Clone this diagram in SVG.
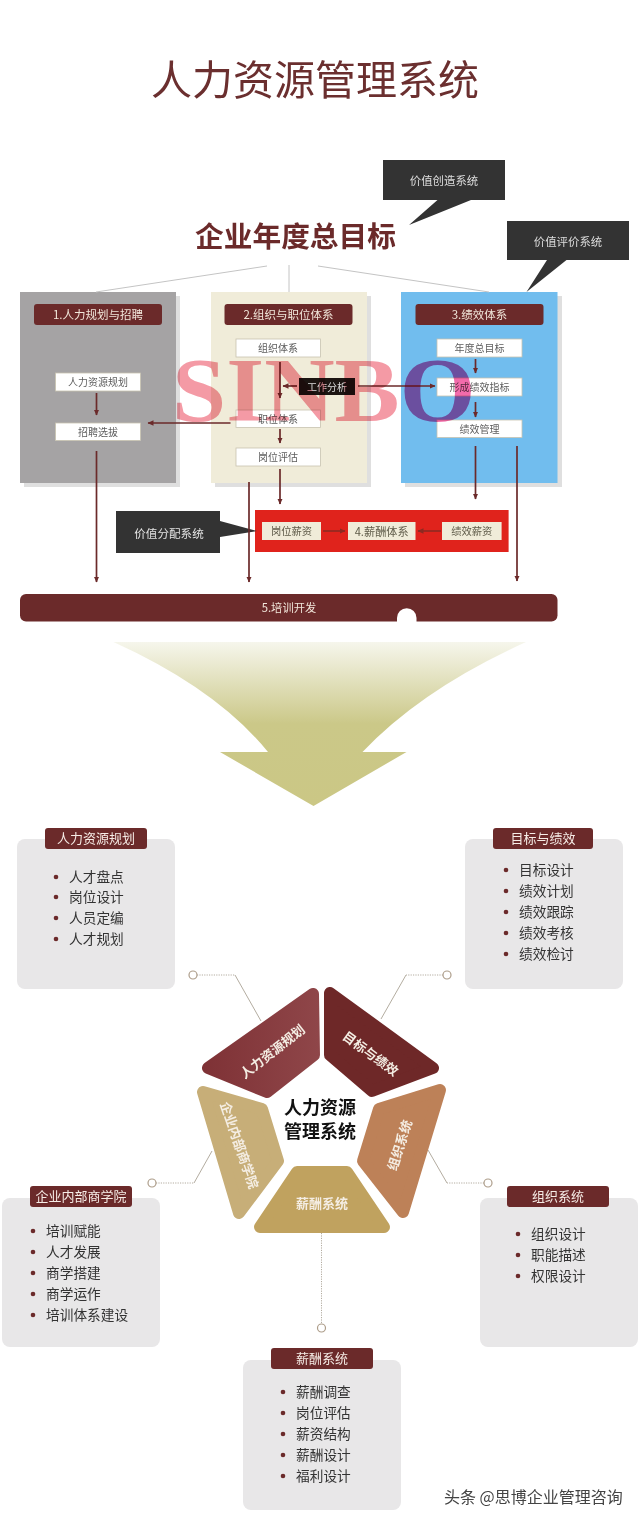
<svg xmlns="http://www.w3.org/2000/svg" width="640" height="1519" viewBox="0 0 640 1519">
<style>
text{font-family:"Noto Sans CJK SC","Noto Sans",sans-serif;text-anchor:middle;dominant-baseline:central}
.panelshadow{fill:#dfdfdf}
.hd{fill:#6b2a2a}
.hdt{fill:#f1e6da;font-size:11.500px}
.box{fill:#fff;stroke:#c8c2b0;stroke-width:.8}
.boxt{fill:#5c5c5c;font-size:10px}
.pay{fill:#f0ecd9}
.payt{fill:#5e5a48;font-size:10.300px}
.call{fill:#333}
.callt{fill:#ddd;font-size:11.400px}
.flow{stroke:#6b2a2a;stroke-width:1.7;fill:none;marker-end:url(#ah)}
.flowr{stroke:#8c2a22;stroke-width:1.6;fill:none;marker-end:url(#ahr)}
.flat{stroke:#c4c4c4;stroke-width:1;fill:none}
.lead{stroke:#b3aca0;stroke-width:1;fill:none}
.dot{stroke:#b3aca0;stroke-width:1;fill:none;stroke-dasharray:1.2 1.2}
.ring{fill:#fff;stroke:#ad9d8a;stroke-width:1.2}
.card{fill:#e8e7e8}
.ct{fill:#f6ece6;font-size:13px}
.li{fill:#333;font-size:13.700px;text-anchor:start}
.bl{fill:#6b2a2a}
.seg{stroke-width:12;stroke-linejoin:round}
.st{fill:#f4ede3;font-size:13px;font-weight:700}
.wm{font-family:"Liberation Serif",serif;font-size:92px;font-weight:700;text-anchor:start;dominant-baseline:auto;mix-blend-mode:multiply}
</style>
<defs>
<marker id="ah" markerUnits="userSpaceOnUse" markerWidth="7" markerHeight="6" refX="5.5" refY="3" orient="auto"><path d="M0 0.3L6 3L0 5.7z" fill="#6b2a2a"/></marker>
<marker id="ahr" markerUnits="userSpaceOnUse" markerWidth="7" markerHeight="6" refX="5.5" refY="3" orient="auto"><path d="M0 0.3L6 3L0 5.7z" fill="#8c2a22"/></marker>
<linearGradient id="fun" x1="0" y1="642" x2="0" y2="806" gradientUnits="userSpaceOnUse"><stop offset="0" stop-color="#f6f6ec"/><stop offset=".5" stop-color="#cbc888"/><stop offset="1" stop-color="#cbc785"/></linearGradient>
<linearGradient id="s1" gradientUnits="userSpaceOnUse" x1="200" y1="0" x2="320" y2="0"><stop offset="0" stop-color="#7e3135"/><stop offset="1" stop-color="#8f4649"/></linearGradient>
</defs>
<rect width="640" height="1519" fill="#fff"/>

<g id="title"><text x="315" y="77" style="font-size:41px;font-weight:400;fill:#6b2f2f">人力资源管理系统</text></g>
<g id="goal"><text x="295.500" y="234" style="font-size:28.700px;font-weight:700;fill:#6b2a2a">企业年度总目标</text></g>

<g id="callout-create"><path class="call" d="M383 160H505V200H471L409 225L437.500 200H383z"/><text class="callt" x="444" y="180">价值创造系统</text></g>
<g id="callout-eval"><path class="call" d="M507 221H629V260H566.500L526.500 292L547 260H507z"/><text class="callt" x="568" y="241">价值评价系统</text></g>

<g id="panel-1"><rect class="panelshadow" x="24" y="296" width="156" height="191"/><rect x="20" y="292" width="156" height="191" fill="#a5a3a4"/>
<rect class="hd" x="34" y="304" width="128" height="21" rx="3"/><text class="hdt" x="98" y="313.500">1.人力规划与招聘</text></g>
<g id="panel-2"><rect class="panelshadow" x="215" y="296" width="156" height="191"/><rect x="211" y="292" width="156" height="191" fill="#f0ecd9"/>
<rect class="hd" x="224.500" y="304" width="128" height="21" rx="3"/><text class="hdt" x="288.500" y="313.500">2.组织与职位体系</text></g>
<g id="panel-3"><rect class="panelshadow" x="405" y="296" width="157" height="191"/><rect x="401" y="292" width="156.500" height="191" fill="#71bdee"/>
<rect class="hd" x="415.500" y="304" width="128" height="21" rx="3"/><text class="hdt" x="479.500" y="313.500">3.绩效体系</text></g>

<g id="n-hrplan"><rect class="box" x="55.500" y="373" width="85" height="18"/><text class="boxt" x="98" y="381.500">人力资源规划</text></g>
<g id="n-recruit"><rect class="box" x="55.500" y="423" width="85" height="17.500"/><text class="boxt" x="98" y="431.500">招聘选拔</text></g>
<g id="n-org"><rect class="box" x="236" y="339" width="84.500" height="18"/><text class="boxt" x="278" y="347.500">组织体系</text></g>
<g id="n-post"><rect class="box" x="236" y="410" width="84.500" height="17.500"/><text class="boxt" x="278" y="418.500">职位体系</text></g>
<g id="n-eval"><rect class="box" x="236" y="448" width="84.500" height="18"/><text class="boxt" x="278" y="456.500">岗位评估</text></g>
<g id="n-goal"><rect class="box" x="437" y="339" width="85" height="18"/><text class="boxt" x="479.500" y="347.500">年度总目标</text></g>
<g id="n-kpi"><rect class="box" x="437" y="378" width="85" height="18"/><text class="boxt" x="479.500" y="386.500">形成绩效指标</text></g>
<g id="n-perf"><rect class="box" x="437" y="420" width="85" height="17.500"/><text class="boxt" x="479.500" y="428.500">绩效管理</text></g>
<g id="n-job"><rect x="299" y="378" width="56" height="17" fill="#1c1512"/><text x="327" y="386" style="font-size:10px;fill:#ddd">工作分析</text></g>

<g id="pay-system"><rect x="255" y="510" width="253.600" height="42" fill="#e0231c"/>
<rect class="pay" x="262" y="522" width="59" height="18"/><text class="payt" x="291.500" y="530.500">岗位薪资</text>
<rect class="pay" x="348" y="522" width="67.500" height="18"/><text class="payt" x="381.700" y="530.500" style="font-size:11.200px">4.薪酬体系</text>
<rect class="pay" x="442" y="522" width="59.600" height="18"/><text class="payt" x="471.800" y="530.500">绩效薪资</text></g>
<g id="callout-pay"><path class="call" d="M116 511H220V521L257 531L220 537V553H116z"/><text x="169" y="532.500" style="font-size:11.600px;fill:#e4e4e4">价值分配系统</text></g>

<g id="training"><rect x="20" y="594" width="537.500" height="27.500" rx="6" fill="#6b2a2a"/><path d="M397 622V618a9.700 9.700 0 0 1 19.500 0V622z" fill="#fff"/><text x="289" y="607" style="font-size:11.300px;fill:#f1e6da">5.培训开发</text></g>

<g id="funnel"><path fill="url(#fun)" d="M113.500 642H526Q422 689 362.500 752H406.500L313.500 806L220 752H268Q217 689 113.500 642z"/></g>

<g id="connectors">
<path class="flat" d="M267 266L96 292M289 265V292M318 266L489 292"/>
<path class="flow" d="M96.500 393V415"/>
<path class="flow" d="M96.500 451V582"/>
<path class="flow" d="M230.500 423H148"/>
<path class="flow" d="M280 362V398"/>
<path class="flow" d="M280 429V443"/>
<path class="flow" d="M280 469V504"/>
<path class="flow" d="M297 386H283"/>
<path class="flow" d="M358 386H435"/>
<path class="flow" d="M475.500 359V373"/>
<path class="flow" d="M475.500 402V417"/>
<path class="flow" d="M475.500 446V499"/>
<path class="flow" d="M517 446V581"/>
<path class="flow" d="M249 482V582"/>
<path class="flowr" d="M323 531H345"/>
<path class="flowr" d="M441 531H418"/>
<path class="dot" d="M197 975H235"/><path class="lead" d="M235 975L261 1021"/><circle class="ring" cx="193" cy="975" r="4"/>
<path class="dot" d="M443 975H406"/><path class="lead" d="M406 975L381 1019"/><circle class="ring" cx="447" cy="975" r="4"/>
<path class="dot" d="M484 1183H447"/><path class="lead" d="M447 1183L428 1150"/><circle class="ring" cx="488" cy="1183" r="4"/>
<path class="dot" d="M156 1183H194"/><path class="lead" d="M194 1183L212 1151"/><circle class="ring" cx="152" cy="1183" r="4"/>
<path class="dot" d="M321.500 1233V1324"/><circle class="ring" cx="321.500" cy="1328" r="4"/>
</g>

<g id="wheel">
<g id="seg-hr"><path class="seg" fill="url(#s1)" stroke="url(#s1)" d="M313 994L314 1055L267 1092L208 1068z"/><text class="st" transform="translate(272 1051) rotate(-38)">人力资源规划</text></g>
<g id="seg-goal"><path class="seg" fill="#6e2828" stroke="#6e2828" d="M330 993L330 1055L372 1091L433 1068z"/><text class="st" transform="translate(371 1053) rotate(36)">目标与绩效</text></g>
<g id="seg-org"><path class="seg" fill="#bd8158" stroke="#bd8158" d="M440 1090L403 1212L363 1161L379 1109z"/><text class="st" transform="translate(399 1145) rotate(-72)">组织系统</text></g>
<g id="seg-pay"><path class="seg" fill="#c0a25f" stroke="#c0a25f" d="M297 1172H347L384 1227H260z"/><text class="st" x="322" y="1202">薪酬系统</text></g>
<g id="seg-edu"><path class="seg" fill="#c7ae78" stroke="#c7ae78" d="M203 1092L262 1109L278 1161L239 1213z"/><text class="st" transform="translate(240 1145) rotate(71)">企业内部商学院</text></g>
<g id="center"><text x="320" y="1106" style="font-size:18px;font-weight:700;fill:#111">人力资源</text><text x="320" y="1130" style="font-size:18px;font-weight:700;fill:#111">管理系统</text></g>
</g>

<g id="card-hr"><rect class="card" x="17" y="839" width="158" height="150" rx="8"/><rect class="hd" x="45" y="828" width="102" height="21" rx="3"/><text class="ct" x="96" y="837.500">人力资源规划</text>
<circle class="bl" cx="56" cy="877" r="2.300"/><text class="li" x="69" y="876">人才盘点</text><circle class="bl" cx="56" cy="897" r="2.300"/><text class="li" x="69" y="896">岗位设计</text><circle class="bl" cx="56" cy="918" r="2.300"/><text class="li" x="69" y="917">人员定编</text><circle class="bl" cx="56" cy="939" r="2.300"/><text class="li" x="69" y="938">人才规划</text></g>
<g id="card-goal"><rect class="card" x="465" y="839" width="158" height="150" rx="8"/><rect class="hd" x="493" y="828" width="100" height="21" rx="3"/><text class="ct" x="543" y="837.500">目标与绩效</text>
<circle class="bl" cx="506" cy="870" r="2.300"/><text class="li" x="519" y="869">目标设计</text><circle class="bl" cx="506" cy="891" r="2.300"/><text class="li" x="519" y="890">绩效计划</text><circle class="bl" cx="506" cy="912" r="2.300"/><text class="li" x="519" y="911">绩效跟踪</text><circle class="bl" cx="506" cy="933" r="2.300"/><text class="li" x="519" y="932">绩效考核</text><circle class="bl" cx="506" cy="954" r="2.300"/><text class="li" x="519" y="953">绩效检讨</text></g>
<g id="card-edu"><rect class="card" x="2" y="1198" width="158" height="149" rx="8"/><rect class="hd" x="30" y="1186" width="102" height="21" rx="3"/><text class="ct" x="81" y="1195.500">企业内部商学院</text>
<circle class="bl" cx="33" cy="1231" r="2.300"/><text class="li" x="46" y="1230">培训赋能</text><circle class="bl" cx="33" cy="1252" r="2.300"/><text class="li" x="46" y="1251">人才发展</text><circle class="bl" cx="33" cy="1273" r="2.300"/><text class="li" x="46" y="1272">商学搭建</text><circle class="bl" cx="33" cy="1294" r="2.300"/><text class="li" x="46" y="1293">商学运作</text><circle class="bl" cx="33" cy="1315" r="2.300"/><text class="li" x="46" y="1314">培训体系建设</text></g>
<g id="card-org"><rect class="card" x="480" y="1198" width="158" height="149" rx="8"/><rect class="hd" x="507" y="1186" width="102" height="21" rx="3"/><text class="ct" x="558" y="1195.500">组织系统</text>
<circle class="bl" cx="518" cy="1234" r="2.300"/><text class="li" x="531" y="1233">组织设计</text><circle class="bl" cx="518" cy="1255" r="2.300"/><text class="li" x="531" y="1254">职能描述</text><circle class="bl" cx="518" cy="1276" r="2.300"/><text class="li" x="531" y="1275">权限设计</text></g>
<g id="card-pay"><rect class="card" x="243" y="1360" width="158" height="150" rx="8"/><rect class="hd" x="271" y="1348" width="102" height="21" rx="3"/><text class="ct" x="322" y="1357.500">薪酬系统</text>
<circle class="bl" cx="283" cy="1392" r="2.300"/><text class="li" x="296" y="1391">薪酬调查</text><circle class="bl" cx="283" cy="1413" r="2.300"/><text class="li" x="296" y="1412">岗位评估</text><circle class="bl" cx="283" cy="1434" r="2.300"/><text class="li" x="296" y="1433">薪资结构</text><circle class="bl" cx="283" cy="1455" r="2.300"/><text class="li" x="296" y="1454">薪酬设计</text><circle class="bl" cx="283" cy="1476" r="2.300"/><text class="li" x="296" y="1475">福利设计</text></g>

<g id="credit"><text x="444" y="1496" style="font-size:16px;fill:#444;text-anchor:start">头条 @思博企业管理咨询</text></g>

<text class="wm" transform="translate(172 421) scale(1.06 1)"><tspan fill="#f49aa5">SINB</tspan><tspan fill="#f26bab">O</tspan></text>
</svg>
